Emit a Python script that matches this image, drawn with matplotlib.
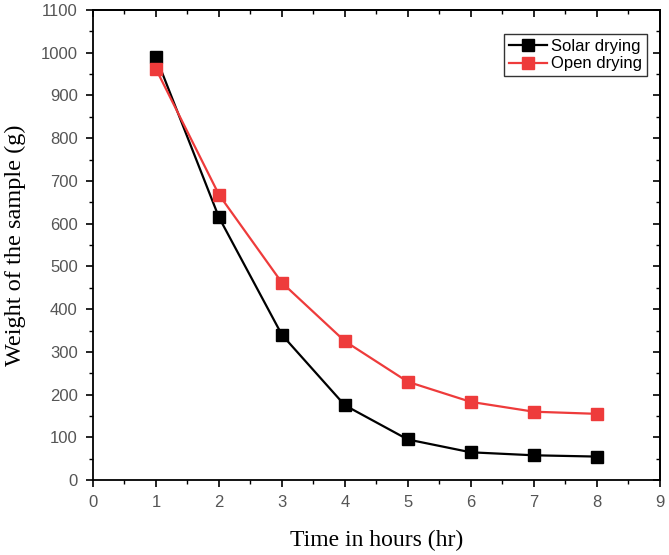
import matplotlib
matplotlib.use("Agg")
import matplotlib.pyplot as plt
from matplotlib.ticker import MultipleLocator

hours = [1, 2, 3, 4, 5, 6, 7, 8]
solar_weight = [990, 615, 340, 175, 95, 65, 58, 55]
open_weight = [962, 668, 462, 325, 230, 183, 160, 155]

fig = plt.figure(figsize=(6.69, 5.55), dpi=100)
ax = fig.add_axes([0.139, 0.135, 0.847, 0.847])

ax.plot(hours, solar_weight, color="black", marker="s", markersize=9, linewidth=1.6, label="Solar drying")
ax.plot(hours, open_weight, color="#EE3B3B", marker="s", markersize=9, linewidth=1.6, label="Open drying")

ax.set_xlim(0, 9)
ax.set_ylim(0, 1100)
ax.xaxis.set_major_locator(MultipleLocator(1))
ax.xaxis.set_minor_locator(MultipleLocator(0.5))
ax.yaxis.set_major_locator(MultipleLocator(100))
ax.yaxis.set_minor_locator(MultipleLocator(50))
# outward ticks on bottom/left, inward on top/right (origin style)
ax.tick_params(which="both", direction="out", labelsize=12, colors="black", pad=6)
ax.tick_params(which="major", length=5, width=1.2)
ax.tick_params(which="minor", length=3, width=1.0)
ax2x = ax.secondary_xaxis("top")
ax2x.xaxis.set_major_locator(MultipleLocator(1))
ax2x.xaxis.set_minor_locator(MultipleLocator(0.5))
ax2x.tick_params(which="both", direction="in", labeltop=False)
ax2x.tick_params(which="major", length=5, width=1.2)
ax2x.tick_params(which="minor", length=3, width=1.0)
ax2y = ax.secondary_yaxis("right")
ax2y.yaxis.set_major_locator(MultipleLocator(100))
ax2y.yaxis.set_minor_locator(MultipleLocator(50))
ax2y.tick_params(which="both", direction="in", labelright=False)
ax2y.tick_params(which="major", length=5, width=1.2)
ax2y.tick_params(which="minor", length=3, width=1.0)
for lab in ax.get_xticklabels() + ax.get_yticklabels():
    lab.set_family("Liberation Sans")
    lab.set_color("#555555")
for s in ax.spines.values():
    s.set_linewidth(1.3)
ax2x.spines["top"].set_linewidth(1.3)
ax2y.spines["right"].set_linewidth(1.3)

ax.set_xlabel("Time in hours (hr)", family="Liberation Serif", fontsize=17)
ax.set_ylabel("Weight of the sample (g)", family="Liberation Serif", fontsize=17.5)
ax.xaxis.set_label_coords(0.5, -0.105)
ax.yaxis.set_label_coords(-0.118, 0.5)

leg = ax.legend(loc="upper right", bbox_to_anchor=(0.977, 0.949), prop={"family": "Liberation Sans", "size": 12},
                frameon=True, fancybox=False, edgecolor="black", handlelength=2.3, handletextpad=0.2,
                borderpad=0.3, labelspacing=0.15, borderaxespad=0.0)
leg.get_frame().set_linewidth(1.0)

fig.savefig("out.png", dpi=100)
